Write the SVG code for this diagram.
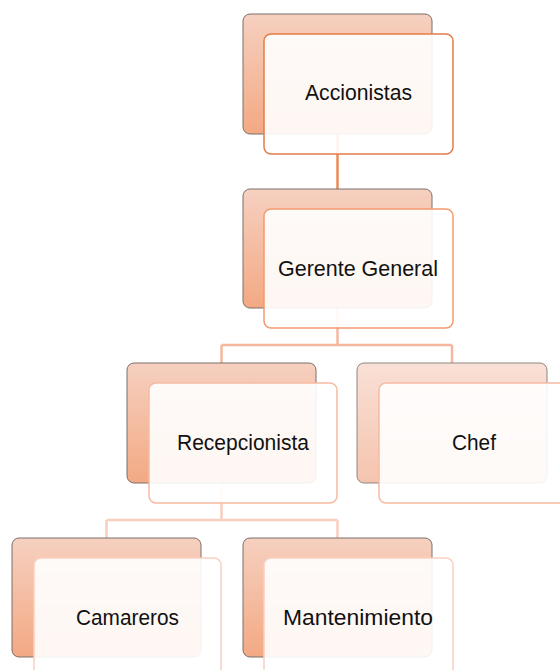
<svg xmlns="http://www.w3.org/2000/svg" width="560" height="670" viewBox="0 0 560 670">
<defs>
<linearGradient id="bg" x1="0" y1="0" x2="0" y2="1">
<stop offset="0" stop-color="#F6D0C0"/>
<stop offset="1" stop-color="#F3A983"/>
</linearGradient>
<linearGradient id="bgl" x1="0" y1="0" x2="0" y2="1">
<stop offset="0" stop-color="#F9E0D6"/>
<stop offset="1" stop-color="#F5C4AE"/>
</linearGradient>
</defs>
<style>
.back{fill:url(#bg);stroke:#7A6E6A;stroke-width:1}
.backl{fill:url(#bgl);stroke:#8C8682;stroke-width:1}
.front{fill:#FFFFFF;fill-opacity:0.9;stroke-width:1.5}
.t{font-family:"Liberation Sans",Arial,sans-serif;font-size:21.5px;fill:#111;text-anchor:middle}
.c{fill:none;stroke-width:2.5}
</style>
<rect width="560" height="670" fill="#FFFFFF"/>
<g id="connectors">
<path class="c" stroke="#EC8A58" d="M337.5 134 V190"/>
<path class="c" stroke="#F5B89E" d="M337.5 308 V345 M221.5 345 H452 M221.5 345 V364 M452 345 V364"/>
<path class="c" stroke="#F8CEBE" d="M221.5 484 V520 M106.5 520 H337.5 M106.5 520 V538 M337.5 520 V538"/>
</g>
<g id="accionistas">
<rect class="back" x="243" y="14" width="189" height="120" rx="7"/>
<rect class="front" x="264" y="34" width="189" height="120" rx="7" stroke="#E47D47"/>
<text class="t" x="358.5" y="100" textLength="107" lengthAdjust="spacingAndGlyphs">Accionistas</text>
</g>
<g id="gerente">
<rect class="back" x="243" y="189" width="189" height="119" rx="7"/>
<rect class="front" x="264" y="209" width="189" height="119" rx="7" stroke="#F29A70"/>
<text class="t" x="358" y="276" textLength="160" lengthAdjust="spacingAndGlyphs">Gerente General</text>
</g>
<g id="recepcionista">
<rect class="back" x="127" y="363" width="189" height="120" rx="7"/>
<rect class="front" x="149" y="383" width="188" height="120" rx="7" stroke="#F6BBA3"/>
<text class="t" x="243" y="450" textLength="132" lengthAdjust="spacingAndGlyphs">Recepcionista</text>
</g>
<g id="chef">
<rect class="backl" x="357" y="363" width="190" height="120" rx="7"/>
<rect class="front" x="379" y="383" width="189" height="120" rx="7" stroke="#F6BBA3"/>
<text class="t" x="474" y="450" textLength="44" lengthAdjust="spacingAndGlyphs">Chef</text>
</g>
<g id="camareros">
<rect class="back" x="12" y="538" width="189" height="119" rx="7"/>
<rect class="front" x="34" y="558" width="187" height="125" rx="7" stroke="#F9D0C0"/>
<text class="t" x="127.5" y="625" textLength="103" lengthAdjust="spacingAndGlyphs">Camareros</text>
</g>
<g id="mantenimiento">
<rect class="back" x="243" y="538" width="189" height="119" rx="7"/>
<rect class="front" x="264" y="558" width="189" height="125" rx="7" stroke="#F9D0C0"/>
<text class="t" x="358" y="625" textLength="150" lengthAdjust="spacingAndGlyphs">Mantenimiento</text>
</g>
</svg>
